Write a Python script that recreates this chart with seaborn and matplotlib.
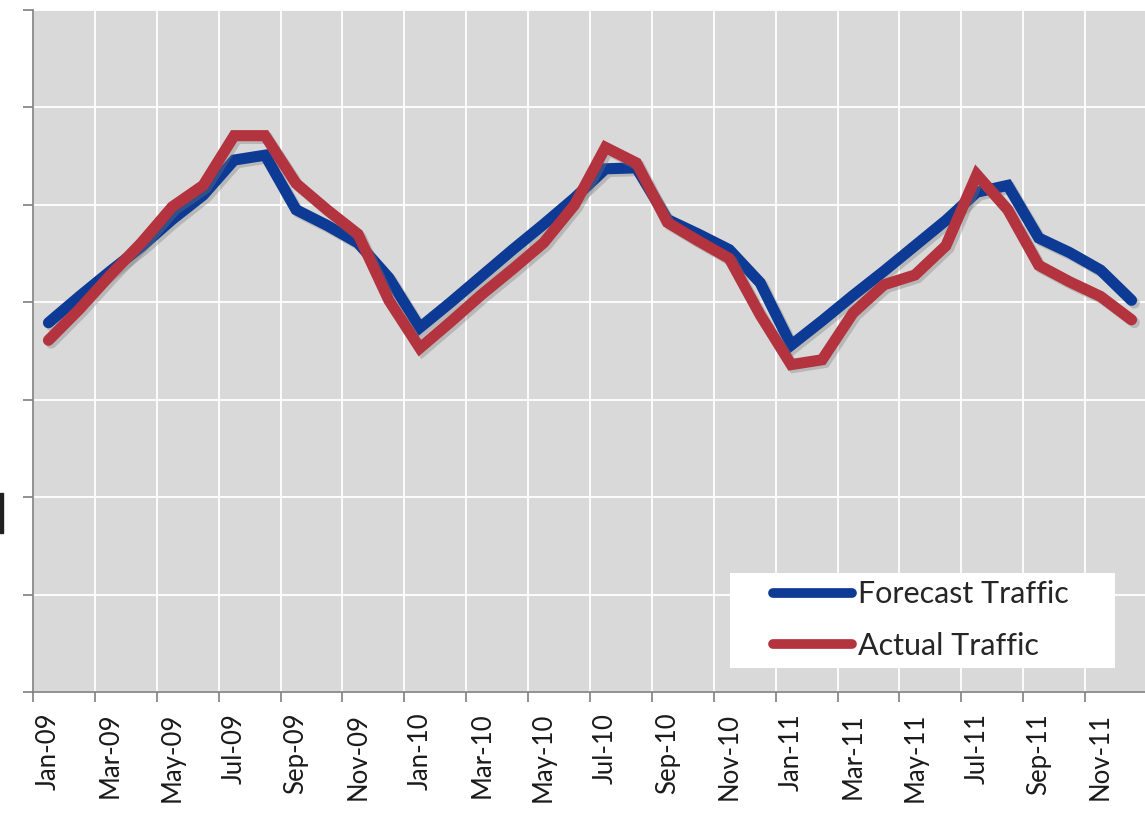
import numpy as np
import pandas as pd
import matplotlib
matplotlib.use("Agg")
import matplotlib.pyplot as plt
import matplotlib.patheffects as pe
import seaborn as sns

# Monthly traffic, Jan-09 .. Dec-11 (unlabelled value scale 0..7)
months = pd.date_range("2009-01-01", "2011-12-01", freq="MS")
forecast = [3.79, 4.06, 4.32, 4.57, 4.85, 5.10, 5.46, 5.51, 4.95, 4.79, 4.61, 4.25,
            3.74, 4.00, 4.27, 4.54, 4.80, 5.07, 5.37, 5.38, 4.85, 4.70, 4.54, 4.20,
            3.56, 3.81, 4.07, 4.32, 4.58, 4.84, 5.13, 5.20, 4.66, 4.51, 4.33, 4.02]
actual = [3.61, 3.93, 4.28, 4.61, 4.98, 5.20, 5.71, 5.71, 5.22, 4.95, 4.70, 4.02,
          3.53, 3.80, 4.08, 4.34, 4.61, 5.00, 5.59, 5.43, 4.82, 4.63, 4.45, 3.87,
          3.36, 3.41, 3.89, 4.18, 4.28, 4.58, 5.31, 4.95, 4.38, 4.21, 4.06, 3.82]
series_names = ["Forecast Traffic", "Actual Traffic"]
series_colors = ["#0c3a94", "#b3333f"]
tick_labels = [m.strftime("%b-%y") for m in months[::2]]
y_ticks = [0, 1, 2, 3, 4, 5, 6, 7]

df = pd.DataFrame({
    "month": np.tile(np.arange(len(months)), 2),
    "traffic": forecast + actual,
    "series": np.repeat(series_names, len(months)),
})

fig = plt.figure(figsize=(11.45, 8.22), dpi=100)
ax = fig.add_axes([33 / 1145, 130 / 822, 1114 / 1145, 682 / 822])
ax.set_facecolor("#d9d9d9")

sns.lineplot(data=df, x="month", y="traffic", hue="series",
             palette=dict(zip(series_names, series_colors)),
             linewidth=8, ax=ax, legend=False, zorder=3)
for line in ax.get_lines():
    line.set_solid_joinstyle("miter")
    line.set_solid_capstyle("round")
    line.set_path_effects([pe.SimpleLineShadow(offset=(2, -2), shadow_color="#7a7a7a", alpha=0.35),
                           pe.Normal()])

n = len(months)
ax.set_xlim(-0.5, n - 0.5)
ax.set_ylim(y_ticks[0], y_ticks[-1])
# tick marks and grid on month boundaries, labels centred on the months
ax.set_xticks(np.arange(n)[::2] - 0.5)
ax.set_xticklabels([])
ax.set_xticks(np.arange(n)[::2], minor=True)
ax.set_xticklabels(tick_labels, minor=True, rotation=90, fontsize=18.5,
                   family="Lato", color="#1a1a1a")
ax.set_yticks(y_ticks)
ax.set_yticklabels([])
ax.set_xlabel("")
ax.set_ylabel("")

ax.grid(True, which="major", color="white", linewidth=1.3, zorder=0)
ax.set_axisbelow(True)
for side in ["top", "right"]:
    ax.spines[side].set_visible(False)
for side in ["left", "bottom"]:
    ax.spines[side].set_color("#7f7f7f")
    ax.spines[side].set_linewidth(1.2)
ax.tick_params(axis="both", which="major", direction="out", length=7, width=1.2, color="#7f7f7f")
ax.tick_params(axis="x", which="minor", length=0, pad=15)

# white legend panel
ax.add_patch(plt.Rectangle((697 / 1114, 24 / 682), 385 / 1114, 95 / 682,
                           transform=ax.transAxes, facecolor="white", edgecolor="none", zorder=4))
handles = [plt.Line2D([], [], color=c, linewidth=7, solid_capstyle="round") for c in series_colors]
leg = ax.legend(handles, series_names, loc="center left",
                bbox_to_anchor=(740 / 1114, 72 / 682), frameon=False,
                prop={"family": "Lato", "size": 22}, labelcolor="#262626",
                handlelength=2.6, handletextpad=0.17, labelspacing=0.76,
                borderpad=0, borderaxespad=0)
leg.set_zorder(5)

# clipped fragment of the value-axis title at the figure's left edge
fig.add_artist(plt.Rectangle((0, 1 - 533 / 822), 3 / 1145, 40 / 822, transform=fig.transFigure,
                             color="#202020"))

fig.savefig("out.png", dpi=100)
